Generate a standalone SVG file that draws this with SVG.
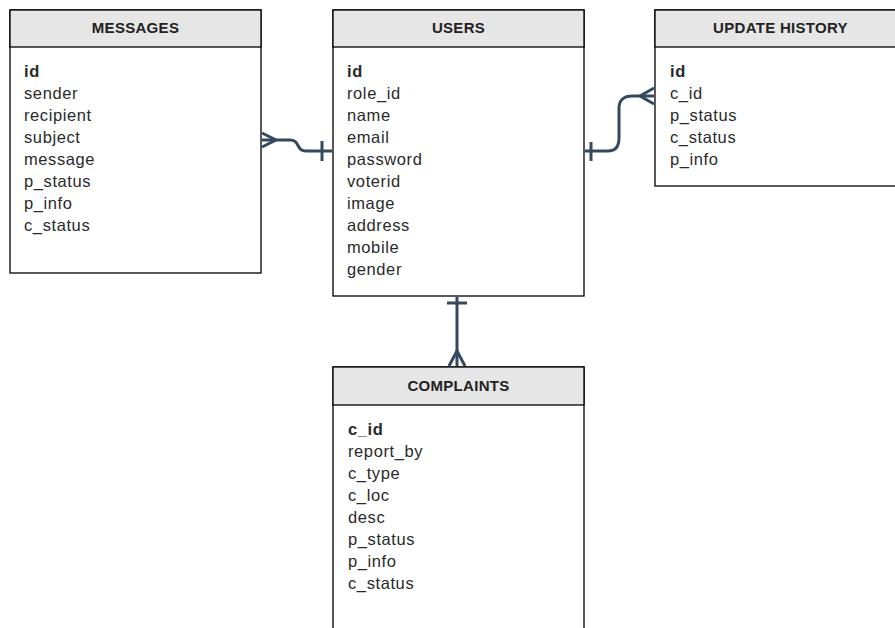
<svg xmlns="http://www.w3.org/2000/svg" width="895" height="628" viewBox="0 0 895 628">
<style>
.box{fill:#ffffff;stroke:#000;stroke-width:1.3}
.hdr{fill:#e6e6e6;stroke:#000;stroke-width:1.3}
.ht{font-family:"Liberation Sans",Arial,sans-serif;font-size:15px;font-weight:bold;fill:#222;text-anchor:middle;letter-spacing:0.3px}
.f{font-family:"Liberation Sans",Arial,sans-serif;font-size:16.5px;fill:#2a2a2a;letter-spacing:0.6px}
.pk{font-weight:bold}
.c{fill:none;stroke:#34495e;stroke-width:3;stroke-linecap:butt}
</style>
<rect width="895" height="628" fill="#fff"/>
<g id="messages">
<rect class="box" x="10" y="10" width="251" height="263"/>
<rect class="hdr" x="10" y="10" width="251" height="37"/>
<text class="ht" x="135.5" y="33">MESSAGES</text>
<text class="f pk" x="24" y="77">id</text>
<text class="f" x="24" y="99">sender</text>
<text class="f" x="24" y="121">recipient</text>
<text class="f" x="24" y="143">subject</text>
<text class="f" x="24" y="165">message</text>
<text class="f" x="24" y="187">p_status</text>
<text class="f" x="24" y="209">p_info</text>
<text class="f" x="24" y="231">c_status</text>
</g>
<g id="users">
<rect class="box" x="333" y="10" width="251" height="286"/>
<rect class="hdr" x="333" y="10" width="251" height="37"/>
<text class="ht" x="458.5" y="33">USERS</text>
<text class="f pk" x="347" y="77">id</text>
<text class="f" x="347" y="99">role_id</text>
<text class="f" x="347" y="121">name</text>
<text class="f" x="347" y="143">email</text>
<text class="f" x="347" y="165">password</text>
<text class="f" x="347" y="187">voterid</text>
<text class="f" x="347" y="209">image</text>
<text class="f" x="347" y="231">address</text>
<text class="f" x="347" y="253">mobile</text>
<text class="f" x="347" y="275">gender</text>
</g>
<g id="update_history">
<rect class="box" x="655" y="10" width="250" height="176"/>
<rect class="hdr" x="655" y="10" width="250" height="37"/>
<text class="ht" x="780.5" y="33">UPDATE HISTORY</text>
<text class="f pk" x="670" y="77">id</text>
<text class="f" x="670" y="99">c_id</text>
<text class="f" x="670" y="121">p_status</text>
<text class="f" x="670" y="143">c_status</text>
<text class="f" x="670" y="165">p_info</text>
</g>
<g id="complaints">
<rect class="box" x="333" y="367" width="251" height="280"/>
<rect class="hdr" x="333" y="367" width="251" height="38"/>
<text class="ht" x="458.5" y="391">COMPLAINTS</text>
<text class="f pk" x="348" y="435">c_id</text>
<text class="f" x="348" y="457">report_by</text>
<text class="f" x="348" y="479">c_type</text>
<text class="f" x="348" y="501">c_loc</text>
<text class="f" x="348" y="523">desc</text>
<text class="f" x="348" y="545">p_status</text>
<text class="f" x="348" y="567">p_info</text>
<text class="f" x="348" y="589">c_status</text>
</g>
<g id="connectors">
<path class="c" d="M262 140 L290 140 C300 140 296 151 306 151 L332 151"/>
<path class="c" d="M262 133 L276 140 L262 147"/>
<path class="c" d="M322 141 L322 161"/>
<path class="c" d="M585 151 L608 151 C616 151 619 146 619 138 L619 108 C619 100 624 96 632 96 L654 96"/>
<path class="c" d="M654 88 L640 96 L654 104"/>
<path class="c" d="M591 142 L591 161"/>
<path class="c" d="M457 297 L457 366"/>
<path class="c" d="M447 303 L467 303"/>
<path class="c" d="M449 366 L457 351 L465 366"/>
</g>
</svg>
